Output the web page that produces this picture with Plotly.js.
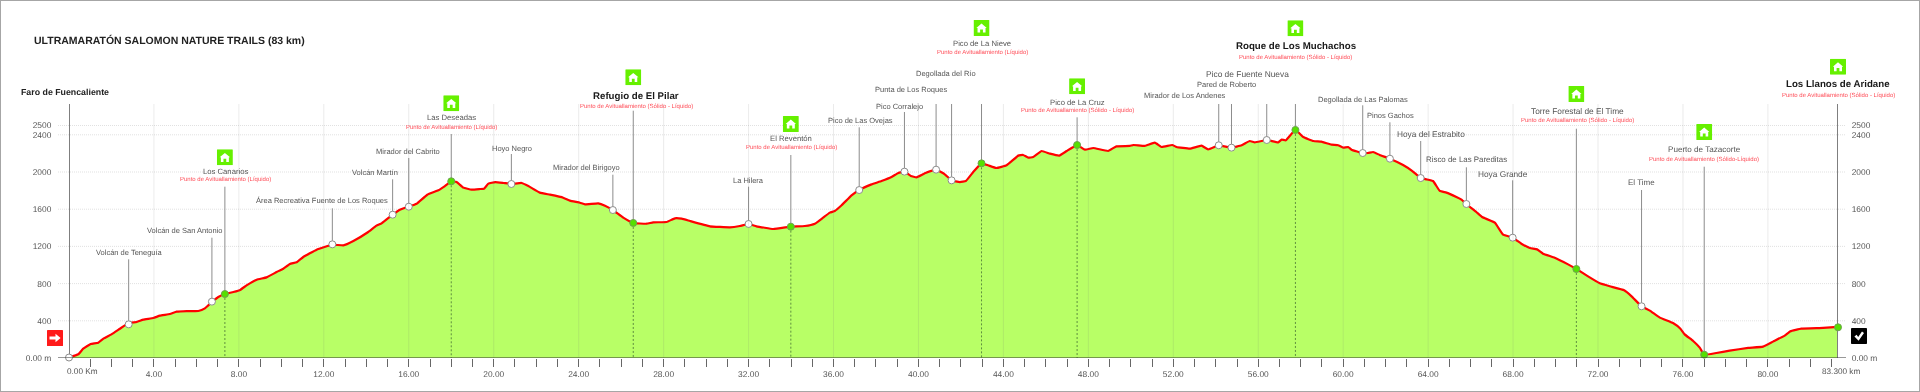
<!DOCTYPE html>
<html><head><meta charset="utf-8">
<script src="https://cdn.plot.ly/plotly-3.0.1.min.js"></script>
<style>html,body{margin:0;padding:0;background:#fff;overflow:hidden}
#chart{width:1920px;height:392px;filter:blur(0.35px)}
#chart text{text-rendering:geometricPrecision}
#frame{position:absolute;left:0;top:0;width:1918px;height:390px;border:1px solid #a6a6a6;pointer-events:none}</style>
</head><body><div id="chart"></div><div id="frame"></div>
<script>
// ---------- profile ----------
const km = [0,0.44,0.67,1.02,1.38,1.62,2.0,2.4,2.81,3.19,3.5,3.97,4.28,4.75,5.07,5.54,6.09,6.4,6.73,7.03,7.34,7.74,8.08,8.36,8.84,9.3,9.78,10.09,10.4,10.72,11.03,11.66,12.4,12.92,13.39,14.09,14.48,14.72,15.24,15.58,16.0,16.37,16.87,17.39,17.7,18.0,18.25,18.57,18.96,19.35,19.54,19.75,20.07,20.46,20.83,21.31,21.63,22.17,22.65,23.27,23.59,24.06,24.3,24.92,25.24,25.61,26.1,26.57,27.2,27.51,28.14,28.53,28.85,29.24,30.18,31.12,31.59,32.0,32.37,33.16,33.99,34.65,35.12,35.51,35.83,36.06,36.38,36.85,37.21,37.79,38.26,38.73,39.05,39.34,39.64,39.91,40.3,40.83,41.24,41.56,41.95,42.23,42.58,42.97,43.28,43.67,44.15,44.7,44.93,45.17,45.4,45.8,46.19,46.63,46.98,47.47,47.84,48.23,48.93,49.32,49.95,50.11,50.66,51.13,51.45,51.95,52.15,52.78,53.33,53.64,54.14,54.74,55.22,55.6,55.84,56.4,56.94,57.1,57.3,57.75,58.12,58.6,58.97,59.45,59.76,60.0,60.23,60.39,60.92,61.17,61.41,61.72,62.2,62.82,63.21,63.65,63.92,64.23,64.55,64.86,65.33,65.57,65.8,66.27,66.54,67.14,67.53,67.98,68.39,68.79,69.13,69.41,69.96,70.59,70.98,71.53,72.06,72.55,73.23,73.58,74.05,74.44,74.91,75.53,75.88,76.08,76.48,76.79,77.0,77.57,78.2,79.07,79.77,80.24,80.79,81.06,81.57,82.6,83.3];
const elevation = [5,40,100,150,165,208,254,315,376,387,412,430,455,473,498,505,505,534,602,656,688,710,735,781,842,867,925,960,1011,1029,1086,1165,1219,1211,1258,1355,1423,1448,1541,1595,1627,1659,1756,1803,1849,1900,1892,1832,1810,1817,1821,1875,1892,1882,1871,1882,1849,1778,1756,1724,1692,1670,1652,1663,1638,1591,1509,1452,1444,1459,1462,1502,1498,1473,1416,1405,1419,1441,1416,1387,1412,1419,1444,1509,1563,1581,1642,1749,1806,1867,1903,1946,1989,2004,1957,1943,1986,2025,1975,1910,1892,1903,2000,2093,2072,2043,2072,2176,2183,2154,2161,2226,2197,2176,2226,2290,2240,2258,2226,2276,2280,2290,2280,2315,2269,2290,2269,2251,2283,2244,2287,2262,2287,2333,2319,2344,2319,2348,2341,2452,2376,2333,2326,2294,2287,2262,2269,2240,2204,2204,2215,2183,2143,2075,2018,1935,1921,1903,1796,1778,1731,1703,1656,1570,1516,1455,1326,1294,1229,1183,1168,1122,1079,1007,957,878,806,771,728,663,556,509,434,376,315,254,183,111,36,54,79,108,122,176,240,287,315,323,335];

// ---------- waypoints ----------
const wpNames = ["Volcán de Teneguía","Volcán de San Antonio","Los Canarios","Área Recreativa Fuente de Los Roques","Volcán Martín","Mirador del Cabrito","Las Deseadas","Hoyo Negro","Mirador del Birigoyo","Refugio de El Pilar","La Hilera","El Reventón","Pico de Las Ovejas","Pico Corralejo","Punta de Los Roques","Degollada del Río","Pico de La Nieve","Pico de La Cruz","Mirador de Los Andenes","Pared de Roberto","Pico de Fuente Nueva","Roque de Los Muchachos","Degollada de Las Palomas","Pinos Gachos","Hoya del Estrabito","Risco de Las Pareditas","Hoya Grande","Torre Forestal de El Time","El Time","Puerto de Tazacorte","Los Llanos de Aridane"];
const wpKm = [2.81,6.73,7.34,12.4,15.24,16.0,18.0,20.83,25.61,26.57,32.0,33.99,37.21,39.34,40.83,41.56,42.97,47.47,54.14,54.74,56.4,57.75,60.92,62.2,63.65,65.8,67.98,70.98,74.05,77.0,83.3];
const wpElev = [362,606,688,1222,1541,1627,1900,1871,1591,1452,1441,1412,1806,2004,2025,1910,2093,2290,2287,2262,2344,2452,2204,2143,1935,1656,1294,957,556,36,330];
const wpService = ["","","Punto de Avituallamiento (Líquido)","","","","Punto de Avituallamiento (Líquido)","","","Punto de Avituallamiento (Sólido - Líquido)","","Punto de Avituallamiento (Líquido)","","","","","Punto de Avituallamiento (Líquido)","Punto de Avituallamiento (Sólido - Líquido)","","","","Punto de Avituallamiento (Sólido - Líquido)","","","","","","Punto de Avituallamiento (Sólido - Líquido)","","Punto de Avituallamiento (Sólido-Líquido)","Punto de Avituallamiento (Sólido - Líquido)"];
const wpMajor = ["Refugio de El Pilar","Roque de Los Muchachos","Los Llanos de Aridane"];
const startKm = 0, startElev = 5;

// ---------- text ----------
const chartTitle = "ULTRAMARATÓN SALOMON NATURE TRAILS (83 km)";
const startName = "Faro de Fuencaliente";
const kmTicks = [];
for (let i=1;i<=83;i++) kmTicks.push(i);
const kmLabelled = [4,8,12,16,20,24,28,32,36,40,44,48,52,56,60,64,68,72,76,80];
const elevTicks = [0,400,800,1200,1600,2000,2400,2500];
const elevLabels = ["0.00 m","400","800","1200","1600","2000","2400","2500"];

// ---------- placement on the page (pixels; not data) ----------
const PL=69, PR=1838, PT=104, PB=358, KMAX=83.3;
const YMAX=(PB-PT)/0.093;
// for each waypoint: label centre x, label centre y, service-line y, stem top, icon y (in px)
const place = [
[129.3,252.7,0,259.3,0],[184,230,0,237.7,0],[225.3,171,179.3,186.7,157.3],[321.7,200.7,0,208.3,0],[375,172,0,179.3,0],[407.7,151,0,158,0],[451.7,117.3,127,134,103.3],
[511.7,148,0,154,0],[586,167.7,0,174.7,0],[636,95.3,105.7,110.7,77.3],[748.7,180,0,186.7,0],[791.3,138,147,155,124],[860,120,0,127.3,0],[899.7,106.3,0,112,0],[910.7,89.3,0,97.7,0],[946.3,73.7,0,80,0],
[982.3,43.7,52.3,59.3,28],[1077.7,102,110.3,117.3,86.3],[1185.3,95.3,0,101.7,0],[1226.7,85,0,91,0],[1247.3,74.3,0,81.7,0],[1295.7,46,57.3,64.3,28.3],[1363,99.3,0,105.3,0],[1390.3,115.7,0,122.3,0],[1431.3,133.7,0,141,0],
[1466.7,159.3,0,167.3,0],[1502.7,173.7,0,180.3,0],[1577,110.7,120.3,128.7,94],[1641.7,182.7,0,190,0],[1704.3,149.3,159.3,166.7,132],[1838,84,95,104,66.7]
];
// label font size per waypoint
const labelSize = [7.5,7.5,7.7,7.5,7.5,7.5,7.7,7.5,7.5,9.7,7.5,7.7,7.5,7.5,7.5,7.5,7.7,7.7,7.5,7.5,8.4,9.7,7.5,7.5,8.3,7.9,8.3,8.3,8,8.1,9.7];
const pxToY = p => (PB-p)/(PB-PT)*YMAX;
const W=PR-PL, H=PB-PT;

const isService = wpService.map(s=>s!=="");

// ---------- traces ----------
const traces = [];
const stemX=[], stemY=[];
wpKm.forEach((k,i)=>{ stemX.push(k,k,null); stemY.push(wpElev[i],pxToY(place[i][3]),null); });
traces.push({x:stemX,y:stemY,mode:'lines',line:{color:'#8c8c8c',width:1},cliponaxis:false,hoverinfo:'skip',showlegend:false});
const dropX=[], dropY=[];
wpKm.forEach((k,i)=>{ if(isService[i]){ dropX.push(k,k,null); dropY.push(wpElev[i],pxToY(PB+8),null);} });
traces.push({x:km,y:elevation,mode:'lines',fill:'tozeroy',fillcolor:'#b8ff66',line:{color:'#ff0000',width:2.2,shape:'spline',smoothing:0.3},hoverinfo:'skip',showlegend:false,cliponaxis:false});
traces.push({x:dropX,y:dropY,mode:'lines',line:{color:'#5f8f3f',width:1,dash:'2px,2px'},cliponaxis:false,hoverinfo:'skip',showlegend:false});
traces.push({x:[0,0,null,KMAX,KMAX],y:[pxToY(PT),pxToY(PB+8),null,pxToY(PT),pxToY(PB+8)],mode:'lines',line:{color:'#7f7f7f',width:2},cliponaxis:false,hoverinfo:'skip',showlegend:false});
traces.push({x:[startKm].concat(wpKm.filter((k,i)=>!isService[i])),y:[startElev].concat(wpElev.filter((k,i)=>!isService[i])),mode:'markers',marker:{size:7,color:'#ffffff',line:{color:'#8c8c8c',width:1}},cliponaxis:false,hoverinfo:'skip',showlegend:false});
traces.push({x:wpKm.filter((k,i)=>isService[i]),y:wpElev.filter((k,i)=>isService[i]),mode:'markers',marker:{size:7,color:'#55e000',line:{color:'#6fa050',width:1}},cliponaxis:false,hoverinfo:'skip',showlegend:false});
traces.push({x:[0],y:[0],yaxis:'y2',mode:'markers',marker:{opacity:0},hoverinfo:'skip',showlegend:false});

// ---------- annotations ----------
const ann = [];
const font = (size,color,bold)=>({family:'"Liberation Sans",Arial,sans-serif',size:size,color:color,weight:bold?700:400});
const addText = (text,xp,yp,f,anchor)=>ann.push({text:text,xref:'paper',yref:'paper',x:(xp-PL)/W,y:(PB-yp)/H,showarrow:false,font:f,xanchor:anchor||'center',yanchor:'middle',borderpad:0,borderwidth:0});
wpNames.forEach((n,i)=>{
  const major = wpMajor.includes(n);
  addText(n,place[i][0],place[i][1],major?font(labelSize[i],'#1a1a1a',true):font(labelSize[i],'#555555',false));
  if(isService[i]) addText(wpService[i],place[i][0],place[i][2],font(6,'#ff4a55',false));
});
addText(chartTitle,34.3,39.7,font(10.5,'#222222',true),'left');
addText(startName,20.7,92.3,font(8.8,'#222222',true),'left');
addText('0.00 Km',66.7,371.7,font(8.2,'#555555',false),'left');
addText('83.300 km',1840.7,371.7,font(8.2,'#555555',false));

// ---------- icons ----------
const svg = s => 'data:image/svg+xml;base64,'+btoa('<svg xmlns="http://www.w3.org/2000/svg" width="64" height="64" viewBox="0 0 16 16">'+s+'</svg>');
const homeIcon = svg('<rect width="16" height="16" rx="0.6" fill="#66f000"/><path d="M8 3.6 L13.2 8 L12 8 L12 12.6 L9.4 12.6 L9.4 9.4 L6.6 9.4 L6.6 12.6 L4 12.6 L4 8 L2.8 8 Z" fill="#fff"/>');
const startIcon = svg('<rect width="16" height="16" rx="0.6" fill="#ff1a1a"/><path d="M2.5 6.4 H8.5 V3.8 L13.6 8 L8.5 12.2 V9.6 H2.5 Z" fill="#fff"/>');
const endIcon = svg('<rect width="16" height="16" rx="0.8" fill="#000"/><path d="M3.4 8.6 L5.6 6.8 L7.2 9 L11 3.6 L13 5 L7.6 12.8 Z" fill="#fff"/>');
const images=[];
const addImg=(src,cx,cy)=>images.push({source:src,xref:'paper',yref:'paper',x:(cx-PL)/W,y:(PB-cy)/H,sizex:16/W,sizey:16/H,xanchor:'center',yanchor:'middle',sizing:'stretch',layer:'above'});
wpKm.forEach((k,i)=>{ if(place[i][4]) addImg(homeIcon,PL+k/KMAX*W,place[i][4]); });
addImg(startIcon,55,338);
addImg(endIcon,1859,336);

// ---------- shapes ----------
const shapes=[];
elevTicks.forEach(v=>{ if(v>0) shapes.push({type:'line',xref:'paper',yref:'y',x0:(58-PL)/W,x1:(1846-PL)/W,y0:v,y1:v,line:{color:'rgba(120,120,120,0.22)',width:1,dash:'1px,1px'},layer:'below'}); });
kmLabelled.forEach(v=>shapes.push({type:'line',xref:'x',yref:'paper',x0:v,x1:v,y0:0,y1:1,line:{color:'rgba(110,110,110,0.14)',width:1},layer:'above'}));
shapes.push({type:'line',xref:'paper',yref:'y',x0:(58-PL)/W,x1:(1846-PL)/W,y0:0,y1:0,line:{color:'#333333',width:1.2},layer:'above'});

const tickFont={family:'"Liberation Sans",Arial,sans-serif',size:8.4,color:'#555555'};
const layout={
  width:1920,height:392,
  margin:{l:PL,r:1920-PR,t:PT,b:392-PB,pad:0},
  paper_bgcolor:'#ffffff',plot_bgcolor:'#ffffff',showlegend:false,
  xaxis:{range:[0,KMAX],showgrid:false,zeroline:false,showline:false,ticks:'outside',ticklen:8,tickwidth:1,tickcolor:'#666666',
    tickmode:'array',tickvals:kmTicks,ticktext:kmTicks.map(k=>kmLabelled.includes(k)?k.toFixed(2):''),tickfont:tickFont,tickangle:0},
  yaxis:{range:[0,YMAX],showgrid:false,zeroline:false,showline:false,ticks:'outside',ticklen:15,tickwidth:0,tickcolor:'rgba(0,0,0,0)',
    tickmode:'array',tickvals:elevTicks,ticktext:elevLabels,tickfont:tickFont},
  yaxis2:{range:[0,YMAX],overlaying:'y',side:'right',showgrid:false,zeroline:false,showline:false,ticks:'outside',ticklen:11,tickwidth:0,tickcolor:'rgba(0,0,0,0)',
    tickmode:'array',tickvals:elevTicks,ticktext:elevLabels,tickfont:tickFont},
  annotations:ann,shapes:shapes,images:images
};
Plotly.newPlot('chart',traces,layout,{staticPlot:true,displayModeBar:false});
</script></body></html>
